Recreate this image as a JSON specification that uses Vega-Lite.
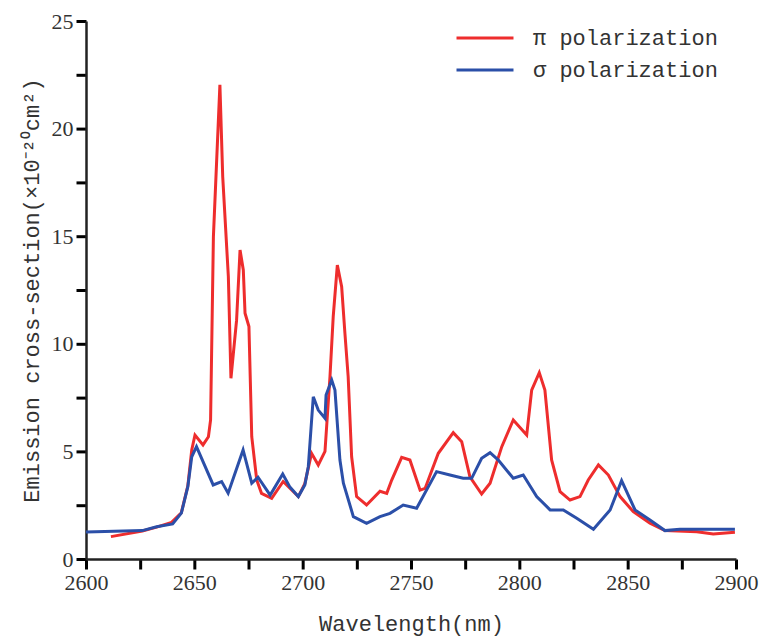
{
  "$schema": "https://vega.github.io/schema/vega-lite/v6.json",
  "width": 650,
  "height": 538,
  "autosize": "none",
  "padding": {"left": 86, "top": 21, "right": 26, "bottom": 82},
  "background": "white",
  "config": {
    "view": {"stroke": null},
    "axis": {"grid": false, "domainColor": "#222", "domainWidth": 2.5,
             "labelFont": "Liberation Serif", "labelFontSize": 22, "labelColor": "#333", "labelFlush": false,
             "titleFont": "Liberation Mono", "titleFontSize": 22, "titleFontWeight": "normal", "titleColor": "#333"}
  },
  "data": {"values": [
    {"w": 2611.5, "v": 1.04, "p": "π polarization"},
    {"w": 2626, "v": 1.30, "p": "π polarization"},
    {"w": 2632.6, "v": 1.48, "p": "π polarization"},
    {"w": 2639.5, "v": 1.70, "p": "π polarization"},
    {"w": 2644, "v": 2.15, "p": "π polarization"},
    {"w": 2647, "v": 3.4, "p": "π polarization"},
    {"w": 2648.8, "v": 5.07, "p": "π polarization"},
    {"w": 2650.3, "v": 5.76, "p": "π polarization"},
    {"w": 2654, "v": 5.3, "p": "π polarization"},
    {"w": 2656.5, "v": 5.68, "p": "π polarization"},
    {"w": 2657.5, "v": 6.46, "p": "π polarization"},
    {"w": 2658.8, "v": 14.98, "p": "π polarization"},
    {"w": 2661.8, "v": 22.03, "p": "π polarization"},
    {"w": 2663.1, "v": 17.77, "p": "π polarization"},
    {"w": 2665.7, "v": 13.12, "p": "π polarization"},
    {"w": 2666.9, "v": 8.4, "p": "π polarization"},
    {"w": 2669.5, "v": 11.1, "p": "π polarization"},
    {"w": 2671.1, "v": 14.36, "p": "π polarization"},
    {"w": 2672.6, "v": 13.43, "p": "π polarization"},
    {"w": 2673.4, "v": 11.42, "p": "π polarization"},
    {"w": 2675.2, "v": 10.8, "p": "π polarization"},
    {"w": 2676.5, "v": 5.68, "p": "π polarization"},
    {"w": 2678.8, "v": 3.67, "p": "π polarization"},
    {"w": 2681, "v": 3.05, "p": "π polarization"},
    {"w": 2685.7, "v": 2.82, "p": "π polarization"},
    {"w": 2691, "v": 3.6, "p": "π polarization"},
    {"w": 2694, "v": 3.3, "p": "π polarization"},
    {"w": 2698, "v": 2.9, "p": "π polarization"},
    {"w": 2701, "v": 3.5, "p": "π polarization"},
    {"w": 2704.1, "v": 4.91, "p": "π polarization"},
    {"w": 2707.2, "v": 4.37, "p": "π polarization"},
    {"w": 2710.3, "v": 5.0, "p": "π polarization"},
    {"w": 2712.6, "v": 8.47, "p": "π polarization"},
    {"w": 2714.1, "v": 11.26, "p": "π polarization"},
    {"w": 2716, "v": 13.66, "p": "π polarization"},
    {"w": 2718, "v": 12.65, "p": "π polarization"},
    {"w": 2719.5, "v": 10.49, "p": "π polarization"},
    {"w": 2721, "v": 8.47, "p": "π polarization"},
    {"w": 2722.6, "v": 4.75, "p": "π polarization"},
    {"w": 2724.9, "v": 2.9, "p": "π polarization"},
    {"w": 2729.5, "v": 2.51, "p": "π polarization"},
    {"w": 2735.7, "v": 3.15, "p": "π polarization"},
    {"w": 2738.8, "v": 3.05, "p": "π polarization"},
    {"w": 2741.1, "v": 3.67, "p": "π polarization"},
    {"w": 2745.7, "v": 4.72, "p": "π polarization"},
    {"w": 2749.5, "v": 4.6, "p": "π polarization"},
    {"w": 2754.2, "v": 3.2, "p": "π polarization"},
    {"w": 2756.5, "v": 3.28, "p": "π polarization"},
    {"w": 2762.6, "v": 4.91, "p": "π polarization"},
    {"w": 2769.5, "v": 5.87, "p": "π polarization"},
    {"w": 2773.4, "v": 5.45, "p": "π polarization"},
    {"w": 2777.2, "v": 3.82, "p": "π polarization"},
    {"w": 2782.6, "v": 3.02, "p": "π polarization"},
    {"w": 2786.5, "v": 3.52, "p": "π polarization"},
    {"w": 2791.9, "v": 5.22, "p": "π polarization"},
    {"w": 2797.2, "v": 6.46, "p": "π polarization"},
    {"w": 2803.4, "v": 5.76, "p": "π polarization"},
    {"w": 2805.7, "v": 7.85, "p": "π polarization"},
    {"w": 2809.2, "v": 8.66, "p": "π polarization"},
    {"w": 2811.8, "v": 7.85, "p": "π polarization"},
    {"w": 2814.9, "v": 4.6, "p": "π polarization"},
    {"w": 2818.8, "v": 3.13, "p": "π polarization"},
    {"w": 2823.4, "v": 2.74, "p": "π polarization"},
    {"w": 2828, "v": 2.9, "p": "π polarization"},
    {"w": 2831.8, "v": 3.67, "p": "π polarization"},
    {"w": 2836.5, "v": 4.37, "p": "π polarization"},
    {"w": 2841.1, "v": 3.9, "p": "π polarization"},
    {"w": 2846.5, "v": 2.9, "p": "π polarization"},
    {"w": 2852.6, "v": 2.2, "p": "π polarization"},
    {"w": 2860.3, "v": 1.66, "p": "π polarization"},
    {"w": 2867.2, "v": 1.32, "p": "π polarization"},
    {"w": 2881.9, "v": 1.27, "p": "π polarization"},
    {"w": 2889.5, "v": 1.16, "p": "π polarization"},
    {"w": 2899.5, "v": 1.24, "p": "π polarization"},
    {"w": 2600, "v": 1.25, "p": "σ polarization"},
    {"w": 2626, "v": 1.32, "p": "σ polarization"},
    {"w": 2632.6, "v": 1.5, "p": "σ polarization"},
    {"w": 2640, "v": 1.63, "p": "σ polarization"},
    {"w": 2644, "v": 2.13, "p": "σ polarization"},
    {"w": 2647, "v": 3.36, "p": "σ polarization"},
    {"w": 2648.8, "v": 4.75, "p": "σ polarization"},
    {"w": 2651, "v": 5.22, "p": "σ polarization"},
    {"w": 2658.7, "v": 3.44, "p": "σ polarization"},
    {"w": 2662.6, "v": 3.6, "p": "σ polarization"},
    {"w": 2665.6, "v": 3.06, "p": "σ polarization"},
    {"w": 2672.5, "v": 5.07, "p": "σ polarization"},
    {"w": 2676.5, "v": 3.52, "p": "σ polarization"},
    {"w": 2679.4, "v": 3.8, "p": "σ polarization"},
    {"w": 2685, "v": 2.97, "p": "σ polarization"},
    {"w": 2690.8, "v": 3.95, "p": "σ polarization"},
    {"w": 2694, "v": 3.36, "p": "σ polarization"},
    {"w": 2698, "v": 2.9, "p": "σ polarization"},
    {"w": 2701, "v": 3.44, "p": "σ polarization"},
    {"w": 2702.6, "v": 4.29, "p": "σ polarization"},
    {"w": 2704.9, "v": 7.54, "p": "σ polarization"},
    {"w": 2707.2, "v": 6.92, "p": "σ polarization"},
    {"w": 2710.3, "v": 6.54, "p": "σ polarization"},
    {"w": 2710.8, "v": 7.62, "p": "σ polarization"},
    {"w": 2713.4, "v": 8.32, "p": "σ polarization"},
    {"w": 2714.9, "v": 7.85, "p": "σ polarization"},
    {"w": 2717.2, "v": 4.6, "p": "σ polarization"},
    {"w": 2718.8, "v": 3.52, "p": "σ polarization"},
    {"w": 2723.4, "v": 1.97, "p": "σ polarization"},
    {"w": 2729.5, "v": 1.66, "p": "σ polarization"},
    {"w": 2735.7, "v": 1.97, "p": "σ polarization"},
    {"w": 2740.3, "v": 2.12, "p": "σ polarization"},
    {"w": 2746.4, "v": 2.51, "p": "σ polarization"},
    {"w": 2752.6, "v": 2.36, "p": "σ polarization"},
    {"w": 2761.8, "v": 4.06, "p": "σ polarization"},
    {"w": 2768, "v": 3.9, "p": "σ polarization"},
    {"w": 2774.1, "v": 3.75, "p": "σ polarization"},
    {"w": 2778, "v": 3.75, "p": "σ polarization"},
    {"w": 2782.6, "v": 4.68, "p": "σ polarization"},
    {"w": 2786.5, "v": 4.94, "p": "σ polarization"},
    {"w": 2790.3, "v": 4.6, "p": "σ polarization"},
    {"w": 2797.2, "v": 3.75, "p": "σ polarization"},
    {"w": 2801.8, "v": 3.9, "p": "σ polarization"},
    {"w": 2808, "v": 2.9, "p": "σ polarization"},
    {"w": 2814.2, "v": 2.28, "p": "σ polarization"},
    {"w": 2820.3, "v": 2.28, "p": "σ polarization"},
    {"w": 2826.5, "v": 1.89, "p": "σ polarization"},
    {"w": 2834.2, "v": 1.38, "p": "σ polarization"},
    {"w": 2841.9, "v": 2.28, "p": "σ polarization"},
    {"w": 2847.2, "v": 3.64, "p": "σ polarization"},
    {"w": 2853.4, "v": 2.28, "p": "σ polarization"},
    {"w": 2860.3, "v": 1.81, "p": "σ polarization"},
    {"w": 2867.2, "v": 1.32, "p": "σ polarization"},
    {"w": 2874.1, "v": 1.38, "p": "σ polarization"},
    {"w": 2899.5, "v": 1.38, "p": "σ polarization"}
  ]},
  "mark": {"type": "line", "strokeWidth": 3},
  "encoding": {
    "x": {"field": "w", "type": "quantitative",
          "scale": {"domain": [2600, 2900], "nice": false, "zero": false},
          "axis": {"orient": "bottom", "values": [2600, 2625, 2650, 2675, 2700, 2725, 2750, 2775, 2800, 2825, 2850, 2875, 2900],
                   "labelExpr": "datum.value % 50 === 0 ? datum.label : ''", "format": "d",
                   "ticks": true, "tickColor": "#000000", "tickWidth": 3, "tickOpacity": 1, "tickRound": false,
                   "tickSize": 10, "labelPadding": 3, "title": "Wavelength(nm)", "titlePadding": 20}},
    "y": {"field": "v", "type": "quantitative",
          "scale": {"domain": [0, 25], "nice": false},
          "axis": {"orient": "left", "values": [0, 2.5, 5, 7.5, 10, 12.5, 15, 17.5, 20, 22.5, 25],
                   "labelExpr": "datum.value % 5 === 0 ? datum.label : ''",
                   "ticks": true, "tickColor": "#000000", "tickWidth": 3, "tickOpacity": 1, "tickRound": false,
                   "tickSize": 10, "labelPadding": 3,
                   "title": "Emission cross-section(×10⁻²⁰cm²)", "titlePadding": 8}},
    "color": {"field": "p", "type": "nominal",
              "scale": {"domain": ["π polarization", "σ polarization"], "range": ["#ee2d2d", "#2b4fa8"]},
              "legend": {"orient": "none", "legendX": 383, "legendY": 1, "title": null,
                         "symbolType": "M-2,0H2", "symbolSize": 812, "symbolStrokeWidth": 3,
                         "labelFont": "Liberation Mono", "labelFontSize": 22, "labelColor": "#333",
                         "labelLimit": 400, "labelOffset": 32, "rowPadding": 5}},
    "order": {"field": "w", "type": "quantitative"}
  }
}
